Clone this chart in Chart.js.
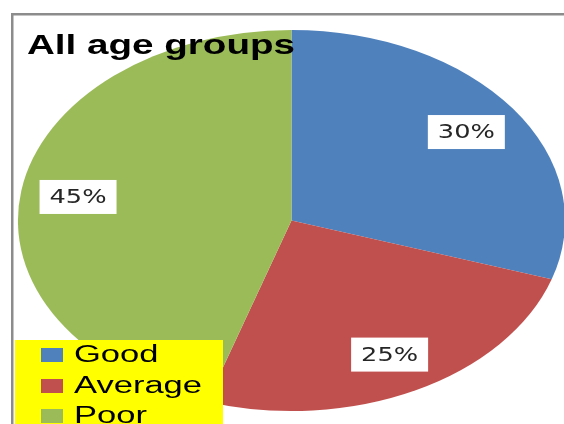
<!DOCTYPE html>
<html>
<head>
<meta charset="utf-8">
<script src="https://cdn.jsdelivr.net/npm/chart.js@4/dist/chart.umd.min.js"></script>
<style>
  html, body { margin: 0; padding: 0; background: #fff; overflow: hidden; }
  #wrap { width: 564px; height: 424px; position: relative; }
  canvas { display: block; }
</style>
</head>
<body>
<div id="wrap"><canvas id="pie"></canvas></div>
<script>
'use strict';

// chart values
const categories = ['Good', 'Average', 'Poor'];
const shares = [30, 25, 45];
const shareLabels = ['30%', '25%', '45%'];
const sliceColors = ['#4F81BD', '#C0504D', '#9BBB59'];
const chartTitle = 'All age groups';

// the original picture is stretched sideways
const STRETCH_X = 1.436;

// draw text scaled sideways
const stretchedText = function(ctx, text, x, y, sx) {
    ctx.save();
    ctx.translate(x, y);
    ctx.scale(sx, 1);
    ctx.fillText(text, 0, 0);
    ctx.restore();
};

// factor so that a sample string ends up a given width
const fitFactor = function(ctx, font, sample, width) {
    ctx.save();
    ctx.font = font;
    const w = ctx.measureText(sample).width;
    ctx.restore();
    return width / w;
};

// stretch only the arcs around the pie centre
const ellipsePlugin = {
    id: 'ellipse',
    beforeDatasetsDraw(chart) {
        const arc = chart.getDatasetMeta(0).data[0];
        const ctx = chart.ctx;
        ctx.save();
        ctx.translate(arc.x, 0);
        ctx.scale(STRETCH_X, 1);
        ctx.translate(-arc.x, 0);
    },
    afterDatasetsDraw(chart) {
        chart.ctx.restore();
    }
};

const decorPlugin = {
    id: 'decor',
    afterDraw(chart) {
        const ctx = chart.ctx;
        const meta = chart.getDatasetMeta(0);

        // percentage boxes
        const labelFont = '20px "DejaVu Sans"';
        const labelSx = fitFactor(ctx, labelFont, '30%', 57);
        meta.data.forEach((arc, i) => {
            const mid = (arc.startAngle + arc.endAngle) / 2;
            const r = arc.outerRadius * 0.79;
            const cx = arc.x + Math.cos(mid) * r * STRETCH_X;
            const cy = arc.y + Math.sin(mid) * r;
            ctx.fillStyle = '#fff';
            ctx.fillRect(cx - 38.5, cy - 17, 77, 34);
            ctx.font = labelFont;
            ctx.fillStyle = '#262626';
            ctx.textBaseline = 'middle';
            ctx.textAlign = 'left';
            const w = ctx.measureText(shareLabels[i]).width * labelSx;
            stretchedText(ctx, shareLabels[i], cx - w / 2, cy + 1, labelSx);
        });

        // title
        const titleFont = 'bold 27px "Liberation Sans"';
        ctx.font = titleFont;
        ctx.fillStyle = '#000';
        ctx.textBaseline = 'alphabetic';
        ctx.textAlign = 'left';
        stretchedText(ctx, chartTitle, 27, 54, fitFactor(ctx, titleFont, chartTitle, 268));

        // legend box
        ctx.fillStyle = '#FFFF00';
        ctx.fillRect(15, 340, 208, 90);
        const legFont = '23px "Liberation Sans"';
        const legSx = fitFactor(ctx, legFont, 'Average', 128);
        const rowY = [355, 386, 416];
        categories.forEach((name, i) => {
            ctx.fillStyle = sliceColors[i];
            ctx.fillRect(41, rowY[i] - 7, 22, 14);
            ctx.fillStyle = '#000';
            ctx.font = legFont;
            ctx.textBaseline = 'middle';
            stretchedText(ctx, name, 74, rowY[i] + 1, legSx);
        });

        // frame, only left and top sides are in view
        ctx.fillStyle = '#8c8c8c';
        ctx.fillRect(11, 13, 2.5, 411);
        ctx.fillRect(11, 13, 553, 2.5);
    }
};

document.addEventListener('DOMContentLoaded', function() {
    const canvas = document.querySelector('#pie').getContext('2d');
    new Chart(canvas, {
        type: 'pie',
        data: {
            labels: categories,
            datasets: [{
                data: shares,
                backgroundColor: sliceColors,
                borderWidth: 0
            }]
        },
        options: {
            responsive: true,
            maintainAspectRatio: false,
            animation: false,
            layout: { padding: { left: 19, right: 0, top: 30, bottom: 13 } },
            plugins: {
                legend: { display: false },
                tooltip: { enabled: false },
                title: { display: false }
            }
        },
        plugins: [ellipsePlugin, decorPlugin]
    });
});
</script>
</body>
</html>
